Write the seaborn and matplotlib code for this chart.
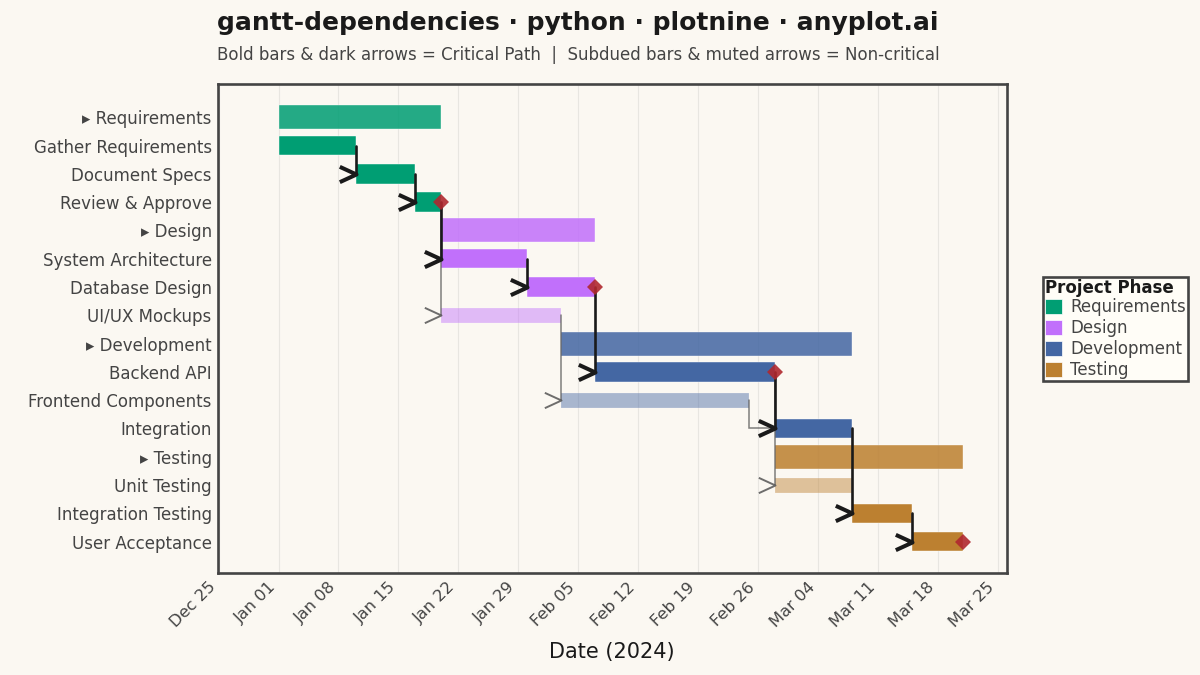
import matplotlib
matplotlib.use("Agg")
import matplotlib.pyplot as plt
import matplotlib.dates as mdates
from matplotlib.markers import MarkerStyle
from matplotlib.patches import Patch
from matplotlib.path import Path
import pandas as pd
import seaborn as sns

# tasks top to bottom
tasks = ["Requirements", "Gather Requirements", "Document Specs", "Review & Approve",
         "Design", "System Architecture", "Database Design", "UI/UX Mockups",
         "Development", "Backend API", "Frontend Components", "Integration",
         "Testing", "Unit Testing", "Integration Testing", "User Acceptance"]
starts = ["2024-01-01", "2024-01-01", "2024-01-10", "2024-01-17",
          "2024-01-20", "2024-01-20", "2024-01-30", "2024-01-20",
          "2024-02-03", "2024-02-07", "2024-02-03", "2024-02-28",
          "2024-02-28", "2024-02-28", "2024-03-08", "2024-03-15"]
ends = ["2024-01-20", "2024-01-10", "2024-01-17", "2024-01-20",
        "2024-02-07", "2024-01-30", "2024-02-07", "2024-02-03",
        "2024-03-08", "2024-02-28", "2024-02-25", "2024-03-08",
        "2024-03-21", "2024-03-08", "2024-03-15", "2024-03-21"]
phases = ["Requirements"] * 4 + ["Design"] * 4 + ["Development"] * 4 + ["Testing"] * 4
kinds = ["summary", "critical", "critical", "critical",
         "summary", "critical", "critical", "normal",
         "summary", "critical", "normal", "critical",
         "summary", "normal", "critical", "critical"]

# source, target, critical
dependencies = [
    ("UI/UX Mockups", "Frontend Components", False),
    ("Review & Approve", "UI/UX Mockups", False),
    ("Frontend Components", "Integration", False),
    ("Backend API", "Unit Testing", False),
    ("Gather Requirements", "Document Specs", True),
    ("Document Specs", "Review & Approve", True),
    ("Review & Approve", "System Architecture", True),
    ("System Architecture", "Database Design", True),
    ("Database Design", "Backend API", True),
    ("Backend API", "Integration", True),
    ("Integration", "Integration Testing", True),
    ("Integration Testing", "User Acceptance", True),
]
milestones = ["Review & Approve", "Database Design", "Backend API", "User Acceptance"]

phase_colors = {"Requirements": "#009E73", "Design": "#C170FB",
                "Development": "#4467A3", "Testing": "#BC8030"}
bar_style = {"summary": (0.85, 0.86), "critical": (0.69, 1.0), "normal": (0.53, 0.45)}

BG = "#FBF8F2"
INK = "#1A1A1A"
SOFT = "#444444"

sns.set_theme(style="white")
plt.rcParams["font.family"] = ["DejaVu Sans"]

df = pd.DataFrame({"task": tasks, "phase": phases, "kind": kinds})
df["start"] = mdates.date2num(pd.to_datetime(starts))
df["end"] = mdates.date2num(pd.to_datetime(ends))
df["duration"] = df["end"] - df["start"]
df["row"] = range(len(df))
df = df.set_index("task", drop=False)

fig = plt.figure(figsize=(12, 6.75), dpi=100, facecolor=BG)
ax = fig.add_axes([217.5 / 1200, 1 - 572.5 / 675, 789 / 1200, 488.5 / 675], facecolor=BG)
ax.set_axisbelow(True)

for _, row in df.iterrows():
    width, alpha = bar_style[row["kind"]]
    sns.barplot(data=df.loc[[row["task"]]], x="duration", y="task", order=tasks, orient="y",
                left=row["start"], width=width, alpha=alpha, color=phase_colors[row["phase"]],
                saturation=1, edgecolor="white", linewidth=0.3, ax=ax, zorder=2)

chevron = MarkerStyle(Path([(-1, 0.46), (0, 0), (-1, -0.46)], closed=False), fillstyle="none")
for source, target, critical in dependencies:
    color = INK if critical else "#555555"
    x0, y0 = df.loc[source, "end"], df.loc[source, "row"]
    x1, y1 = df.loc[target, "start"], df.loc[target, "row"]
    ax.plot([x0, x0, x1], [y0, y1, y1], color=color, lw=1.9 if critical else 1.1,
            alpha=1 if critical else 0.75, zorder=3, solid_joinstyle="miter")
    ax.plot([x1], [y1], marker=chevron, ms=24, mew=2.9 if critical else 1.4,
            color=color, mfc="none", alpha=1 if critical else 0.85, zorder=4)

ax.plot(df.loc[milestones, "end"], df.loc[milestones, "row"], ls="none", marker="D", ms=8.3,
        color="#B0282F", mew=0, alpha=0.9, zorder=5)

ax.xaxis_date()
ax.xaxis.set_major_locator(mdates.WeekdayLocator(byweekday=mdates.MO))
ax.xaxis.set_major_formatter(mdates.DateFormatter("%b %d"))
ax.set_xlim(mdates.date2num(pd.Timestamp("2024-01-01")) - 7.13,
            mdates.date2num(pd.Timestamp("2024-01-01")) + 85.05)
ax.set_ylim(15 + 1.09, -1.175)
ax.set_yticks(df["row"])
ax.set_yticklabels([("▸ " + t) if k == "summary" else t for t, k in zip(tasks, kinds)])
ax.grid(True, axis="x", color="#D9D8D3", lw=0.8, alpha=0.55)
ax.grid(False, axis="y")
ax.tick_params(axis="x", labelsize=11.7, labelcolor=SOFT, length=0, pad=5)
ax.tick_params(axis="y", labelsize=12, labelcolor=SOFT, length=0, pad=4.2)
plt.setp(ax.get_xticklabels(), rotation=45, ha="right")
ax.set_ylabel("")
ax.set_xlabel("Date (2024)", fontsize=15, color=INK, labelpad=8.5)
for spine in ax.spines.values():
    spine.set_color("#444444")
    spine.set_linewidth(1.9)

fig.text(217 / 1200, 1 - 23 / 675, "gantt-dependencies · python · plotnine · anyplot.ai",
         fontsize=18, fontweight="bold", color=INK, va="center")
fig.text(217 / 1200, 1 - 55 / 675,
         "Bold bars & dark arrows = Critical Path  |  Subdued bars & muted arrows = Non-critical",
         fontsize=12, color=SOFT, va="center")

handles = [Patch(facecolor=phase_colors[p], edgecolor="white", lw=0.5, label=p) for p in phase_colors]
leg = ax.legend(handles=handles, title="Project Phase", loc="upper left",
                bbox_to_anchor=(1043 / 1200, 1 - 277 / 675), bbox_transform=fig.transFigure,
                fontsize=12, title_fontproperties={"weight": "bold", "size": 12},
                alignment="left", frameon=True, fancybox=False, facecolor="#FFFDF7",
                edgecolor="#444444", framealpha=1, borderpad=0.12, labelspacing=0.18,
                handlelength=1.02, handleheight=1.0, handletextpad=0.5, borderaxespad=0)
leg._legend_box.sep = 1
leg.get_frame().set_linewidth(1.9)
for text in leg.get_texts():
    text.set_color(SOFT)
leg.get_title().set_color(INK)

fig.savefig("out.png", dpi=100, facecolor=BG)
